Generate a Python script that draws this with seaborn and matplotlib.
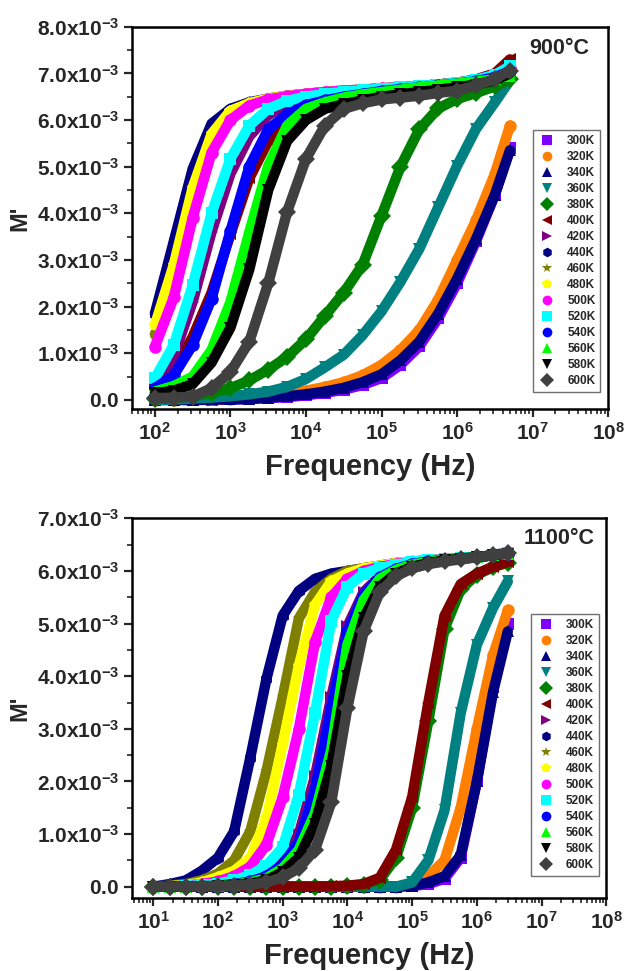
import math
import matplotlib
matplotlib.use("Agg")
import matplotlib.pyplot as plt
import seaborn as sns
import pandas as pd
from matplotlib.ticker import FixedLocator, FuncFormatter, MultipleLocator, LogLocator, NullFormatter
from matplotlib.lines import Line2D

# ---------------- data ----------------
temps = ["300K", "320K", "340K", "360K", "380K", "400K", "420K", "440K",
         "460K", "480K", "500K", "520K", "540K", "560K", "580K", "600K"]
colors = ["#8000ff", "#ff8000", "#000080", "#008080", "#008000", "#800000", "#800080", "#000080",
          "#808000", "#ffff00", "#ff00ff", "#00ffff", "#0000ff", "#00ff00", "#000000", "#404040"]
markers = ["s", "o", "^", "v", "D", "<", ">", "h", "*", "p", "o", "s", "o", "^", "v", "D"]

# 900 C panel (M' in units of 1e-3)
freq_900 = [100, 178, 316, 562, 1000, 1778, 3162, 5623, 10000, 17783, 31623, 56234,
            100000, 177828, 316228, 562341, 1000000, 1778279, 3162278, 5000000]
M900_300 = [0.0, 0.0, 0.0, 0.0, 0.01, 0.02, 0.04, 0.06, 0.1, 0.15, 0.22, 0.32, 0.47, 0.75, 1.15, 1.75, 2.5, 3.4, 4.4, 5.4]
M900_320 = [0.0, 0.0, 0.01, 0.01, 0.02, 0.04, 0.08, 0.13, 0.2, 0.28, 0.38, 0.53, 0.75, 1.07, 1.5, 2.15, 3.0, 3.85, 4.85, 5.88]
M900_340 = [0.0, 0.0, 0.0, 0.01, 0.01, 0.02, 0.05, 0.08, 0.12, 0.18, 0.26, 0.38, 0.55, 0.85, 1.25, 1.85, 2.6, 3.45, 4.4, 5.35]
M900_360 = [0.0, 0.01, 0.03, 0.05, 0.08, 0.12, 0.18, 0.28, 0.45, 0.7, 0.97, 1.39, 1.9, 2.53, 3.24, 4.13, 5.02, 5.81, 6.38, 6.85]
M900_380 = [0.02, 0.04, 0.08, 0.15, 0.25, 0.42, 0.65, 0.92, 1.3, 1.8, 2.3, 2.9, 3.95, 5.0, 5.8, 6.25, 6.45, 6.58, 6.72, 6.88]
M900_400 = [0.3, 0.65, 1.35, 2.3, 3.55, 4.75, 5.55, 6.0, 6.3, 6.45, 6.55, 6.6, 6.65, 6.7, 6.73, 6.76, 6.8, 6.87, 7.0, 7.3]
M900_420 = [0.35, 0.95, 2.1, 3.6, 4.85, 5.65, 6.1, 6.35, 6.48, 6.55, 6.6, 6.64, 6.67, 6.7, 6.73, 6.76, 6.8, 6.86, 6.97, 7.15]
M900_440 = [1.85, 3.4, 4.95, 5.92, 6.24, 6.38, 6.46, 6.52, 6.56, 6.6, 6.63, 6.65, 6.68, 6.7, 6.73, 6.76, 6.8, 6.85, 6.95, 7.1]
M900_460 = [1.4, 2.7, 4.4, 5.65, 6.18, 6.36, 6.46, 6.52, 6.56, 6.6, 6.63, 6.65, 6.68, 6.7, 6.73, 6.76, 6.8, 6.85, 6.95, 7.12]
M900_480 = [1.6, 2.9, 4.55, 5.7, 6.2, 6.36, 6.46, 6.52, 6.56, 6.6, 6.63, 6.65, 6.68, 6.7, 6.73, 6.76, 6.8, 6.85, 6.95, 7.12]
M900_500 = [1.14, 2.2, 3.9, 5.3, 6.0, 6.31, 6.44, 6.51, 6.56, 6.6, 6.63, 6.65, 6.68, 6.7, 6.73, 6.76, 6.8, 6.85, 6.95, 7.12]
M900_520 = [0.46, 1.18, 2.46, 4.0, 5.17, 5.88, 6.24, 6.41, 6.5, 6.56, 6.6, 6.64, 6.67, 6.7, 6.73, 6.76, 6.8, 6.86, 6.97, 7.15]
M900_540 = [0.25, 0.53, 1.18, 2.17, 3.62, 5.0, 5.8, 6.12, 6.32, 6.42, 6.5, 6.56, 6.62, 6.66, 6.7, 6.74, 6.78, 6.83, 6.92, 7.05]
M900_560 = [0.18, 0.3, 0.5, 1.07, 2.1, 3.6, 5.02, 5.88, 6.24, 6.38, 6.48, 6.55, 6.6, 6.65, 6.7, 6.74, 6.78, 6.82, 6.88, 6.95]
M900_580 = [0.14, 0.2, 0.34, 0.8, 1.55, 2.8, 4.5, 5.55, 6.0, 6.24, 6.34, 6.42, 6.5, 6.55, 6.6, 6.65, 6.7, 6.76, 6.85, 7.0]
M900_600 = [0.04, 0.05, 0.07, 0.25, 0.6, 1.25, 2.5, 4.03, 5.17, 5.88, 6.24, 6.36, 6.44, 6.48, 6.52, 6.58, 6.63, 6.74, 6.88, 7.06]

# 1100 C panel (M' in units of 1e-3)
freq_1100 = [10, 18, 32, 56, 100, 178, 316, 562, 1000, 1778, 3162, 5623, 10000, 17783, 31623,
             56234, 100000, 177828, 316228, 562341, 1000000, 1778279, 3000000]
M1100_300 = [0.0, 0.0, 0.0, 0.0, 0.0, 0.0, 0.0, 0.0, 0.0, 0.0, 0.0, 0.0, 0.0, 0.0, 0.0, 0.0, 0.01, 0.05, 0.15, 0.55, 2.0, 3.8, 5.0]
M1100_320 = [0.0, 0.0, 0.0, 0.0, 0.0, 0.0, 0.0, 0.0, 0.0, 0.0, 0.0, 0.0, 0.0, 0.0, 0.0, 0.0, 0.05, 0.2, 0.5, 1.5, 3.0, 4.4, 5.25]
M1100_340 = [0.0, 0.0, 0.0, 0.0, 0.0, 0.0, 0.0, 0.0, 0.0, 0.0, 0.0, 0.0, 0.0, 0.0, 0.0, 0.0, 0.02, 0.08, 0.2, 0.6, 2.0, 3.7, 4.85]
M1100_360 = [0.0, 0.0, 0.0, 0.0, 0.0, 0.0, 0.0, 0.0, 0.0, 0.0, 0.0, 0.0, 0.0, 0.0, 0.0, 0.0, 0.08, 0.5, 1.45, 3.3, 4.6, 5.3, 5.8]
M1100_380 = [0.0, 0.0, 0.0, 0.0, 0.0, 0.0, 0.0, 0.0, 0.0, 0.0, 0.0, 0.0, 0.01, 0.04, 0.13, 0.55, 1.5, 3.15, 4.9, 5.65, 5.93, 6.07, 6.16]
M1100_400 = [0.0, 0.0, 0.0, 0.0, 0.0, 0.0, 0.0, 0.0, 0.0, 0.0, 0.0, 0.01, 0.02, 0.05, 0.17, 0.7, 1.7, 3.5, 5.15, 5.75, 5.95, 6.08, 6.17]
M1100_420 = [0.0, 0.0, 0.0, 0.01, 0.03, 0.06, 0.12, 0.25, 0.5, 1.0, 2.1, 3.6, 4.95, 5.6, 5.9, 6.05, 6.13, 6.18, 6.21, 6.24, 6.26, 6.3, 6.33]
M1100_440 = [0.0, 0.05, 0.12, 0.3, 0.55, 1.05, 2.45, 3.95, 5.15, 5.62, 5.85, 5.95, 6.0, 6.05, 6.1, 6.15, 6.18, 6.2, 6.22, 6.24, 6.26, 6.3, 6.35]
M1100_460 = [0.0, 0.02, 0.05, 0.12, 0.25, 0.5, 1.05, 2.2, 3.6, 5.1, 5.6, 5.85, 6.0, 6.05, 6.1, 6.15, 6.18, 6.2, 6.22, 6.24, 6.26, 6.3, 6.35]
M1100_480 = [0.0, 0.01, 0.03, 0.08, 0.18, 0.3, 0.55, 1.3, 2.7, 4.2, 5.35, 5.8, 5.95, 6.05, 6.1, 6.15, 6.18, 6.2, 6.22, 6.24, 6.26, 6.3, 6.35]
M1100_500 = [0.0, 0.0, 0.02, 0.05, 0.1, 0.2, 0.38, 0.8, 1.7, 3.0, 4.65, 5.5, 5.85, 6.0, 6.08, 6.13, 6.17, 6.2, 6.22, 6.24, 6.26, 6.3, 6.35]
M1100_520 = [0.0, 0.0, 0.01, 0.03, 0.06, 0.12, 0.22, 0.4, 0.75, 1.75, 3.3, 5.05, 5.7, 5.95, 6.05, 6.12, 6.17, 6.2, 6.22, 6.24, 6.26, 6.3, 6.35]
M1100_540 = [0.0, 0.0, 0.0, 0.01, 0.02, 0.05, 0.1, 0.2, 0.42, 0.85, 1.85, 3.4, 4.85, 5.55, 5.88, 6.04, 6.13, 6.18, 6.21, 6.24, 6.26, 6.3, 6.33]
M1100_560 = [0.0, 0.0, 0.0, 0.01, 0.02, 0.04, 0.08, 0.16, 0.35, 0.7, 1.4, 2.6, 4.6, 5.45, 5.85, 6.02, 6.12, 6.17, 6.21, 6.24, 6.26, 6.3, 6.33]
M1100_580 = [0.0, 0.0, 0.0, 0.0, 0.01, 0.03, 0.06, 0.12, 0.28, 0.55, 1.2, 2.3, 4.0, 5.1, 5.7, 5.95, 6.08, 6.15, 6.2, 6.23, 6.26, 6.3, 6.33]
M1100_600 = [0.0, 0.0, 0.0, 0.0, 0.01, 0.02, 0.04, 0.08, 0.18, 0.35, 0.7, 1.6, 3.4, 4.85, 5.6, 5.9, 6.05, 6.13, 6.18, 6.22, 6.26, 6.3, 6.34]

series_900 = [M900_300, M900_320, M900_340, M900_360, M900_380, M900_400, M900_420, M900_440,
              M900_460, M900_480, M900_500, M900_520, M900_540, M900_560, M900_580, M900_600]
series_1100 = [M1100_300, M1100_320, M1100_340, M1100_360, M1100_380, M1100_400, M1100_420, M1100_440,
               M1100_460, M1100_480, M1100_500, M1100_520, M1100_540, M1100_560, M1100_580, M1100_600]

# ---------------- style ----------------
sns.set_style("ticks")
plt.rcParams["font.family"] = ["Liberation Sans", "DejaVu Sans"]
plt.rcParams["font.weight"] = "bold"
plt.rcParams["axes.labelweight"] = "bold"
plt.rcParams["mathtext.fontset"] = "custom"
plt.rcParams["mathtext.rm"] = "Liberation Sans:bold"
plt.rcParams["mathtext.bf"] = "Liberation Sans:bold"
plt.rcParams["mathtext.it"] = "Liberation Sans:bold"

palette = dict(zip(temps, colors))
marker_map = dict(zip(temps, markers))


def build_df(freqs, series):
    rows = []
    for t, vals in zip(temps, series):
        for f, v in zip(freqs, vals):
            rows.append((f, v * 1e-3, t))
    return pd.DataFrame(rows, columns=["f", "M", "T"])


def yfmt(v, pos):
    if abs(v) < 1e-9:
        return r"$\mathbf{0.0}$"
    return r"$\mathbf{%.1fx10^{-3}}$" % (v * 1e3)


def xfmt(v, pos):
    return r"$\mathbf{10^{%d}}$" % int(round(math.log10(v)))


def draw(ax, freqs, series, xlim, ylim, ymax_tick, xdecades, title, title_pos, leg_anchor):
    df = build_df(freqs, series)
    sns.lineplot(data=df, x="f", y="M", hue="T", style="T", hue_order=temps, style_order=temps,
                 palette=palette, markers=marker_map, dashes=False, linewidth=7.5,
                 markersize=9, markeredgewidth=0, estimator=None, sort=False,
                 legend=False, ax=ax, solid_capstyle="round", solid_joinstyle="round")
    ax.set_xscale("log")
    ax.set_xlim(*xlim)
    ax.set_ylim(*ylim)
    ax.xaxis.set_major_locator(FixedLocator([10.0 ** k for k in xdecades]))
    ax.xaxis.set_major_formatter(FuncFormatter(xfmt))
    ax.xaxis.set_minor_locator(LogLocator(base=10, subs=[2, 3, 4, 5, 6, 7, 8, 9], numticks=30))
    ax.xaxis.set_minor_formatter(NullFormatter())
    ax.yaxis.set_major_locator(FixedLocator([k * 1e-3 for k in range(0, ymax_tick + 1)]))
    ax.yaxis.set_major_formatter(FuncFormatter(yfmt))
    ax.yaxis.set_minor_locator(MultipleLocator(0.5e-3))
    ax.tick_params(axis="both", which="major", direction="out", length=6, width=1.6,
                   labelsize=15, top=False, right=False, pad=3)
    ax.tick_params(axis="both", which="minor", direction="out", length=3.5, width=1.2,
                   top=False, right=False)
    for s in ax.spines.values():
        s.set_linewidth(1.8)
        s.set_color("black")
    ax.set_xlabel("Frequency (Hz)", fontsize=21, fontweight="bold", labelpad=7)
    ax.set_ylabel("M'", fontsize=17, fontweight="bold", labelpad=4)
    ax.text(title_pos[0], title_pos[1], title, transform=ax.transAxes, ha="center", va="center",
            fontsize=15.5, fontweight="bold")
    handles = [Line2D([0], [0], marker=m, color=c, linestyle="None", markersize=7, markeredgewidth=0)
               for m, c in zip(markers, colors)]
    leg = ax.legend(handles, temps, loc="upper left", bbox_to_anchor=leg_anchor, borderaxespad=0,
                    frameon=True, fancybox=False, framealpha=1, edgecolor="#707070",
                    prop={"family": "Liberation Sans", "weight": "bold", "size": 8.5},
                    labelspacing=0.34, handlelength=1.6, handletextpad=0.9, borderpad=0.4)
    leg.get_frame().set_linewidth(1.0)


fig = plt.figure(figsize=(6.25, 9.71), dpi=100)
ax1 = fig.add_axes([0.2107, 0.5785, 0.7625, 0.394])
ax2 = fig.add_axes([0.2107, 0.0749, 0.7595, 0.3913])

draw(ax1, freq_900, series_900, (10 ** 1.693, 1e8), (-0.2e-3, 8.0e-3), 8, range(2, 9),
     "900°C", (0.897, 0.942), (0.842, 0.73))
draw(ax2, freq_1100, series_1100, (10 ** 0.668, 1e8), (-0.22e-3, 7.0e-3), 7, range(1, 9),
     "1100°C", (0.90, 0.948), (0.842, 0.748))

fig.savefig("out.png", dpi=100)
